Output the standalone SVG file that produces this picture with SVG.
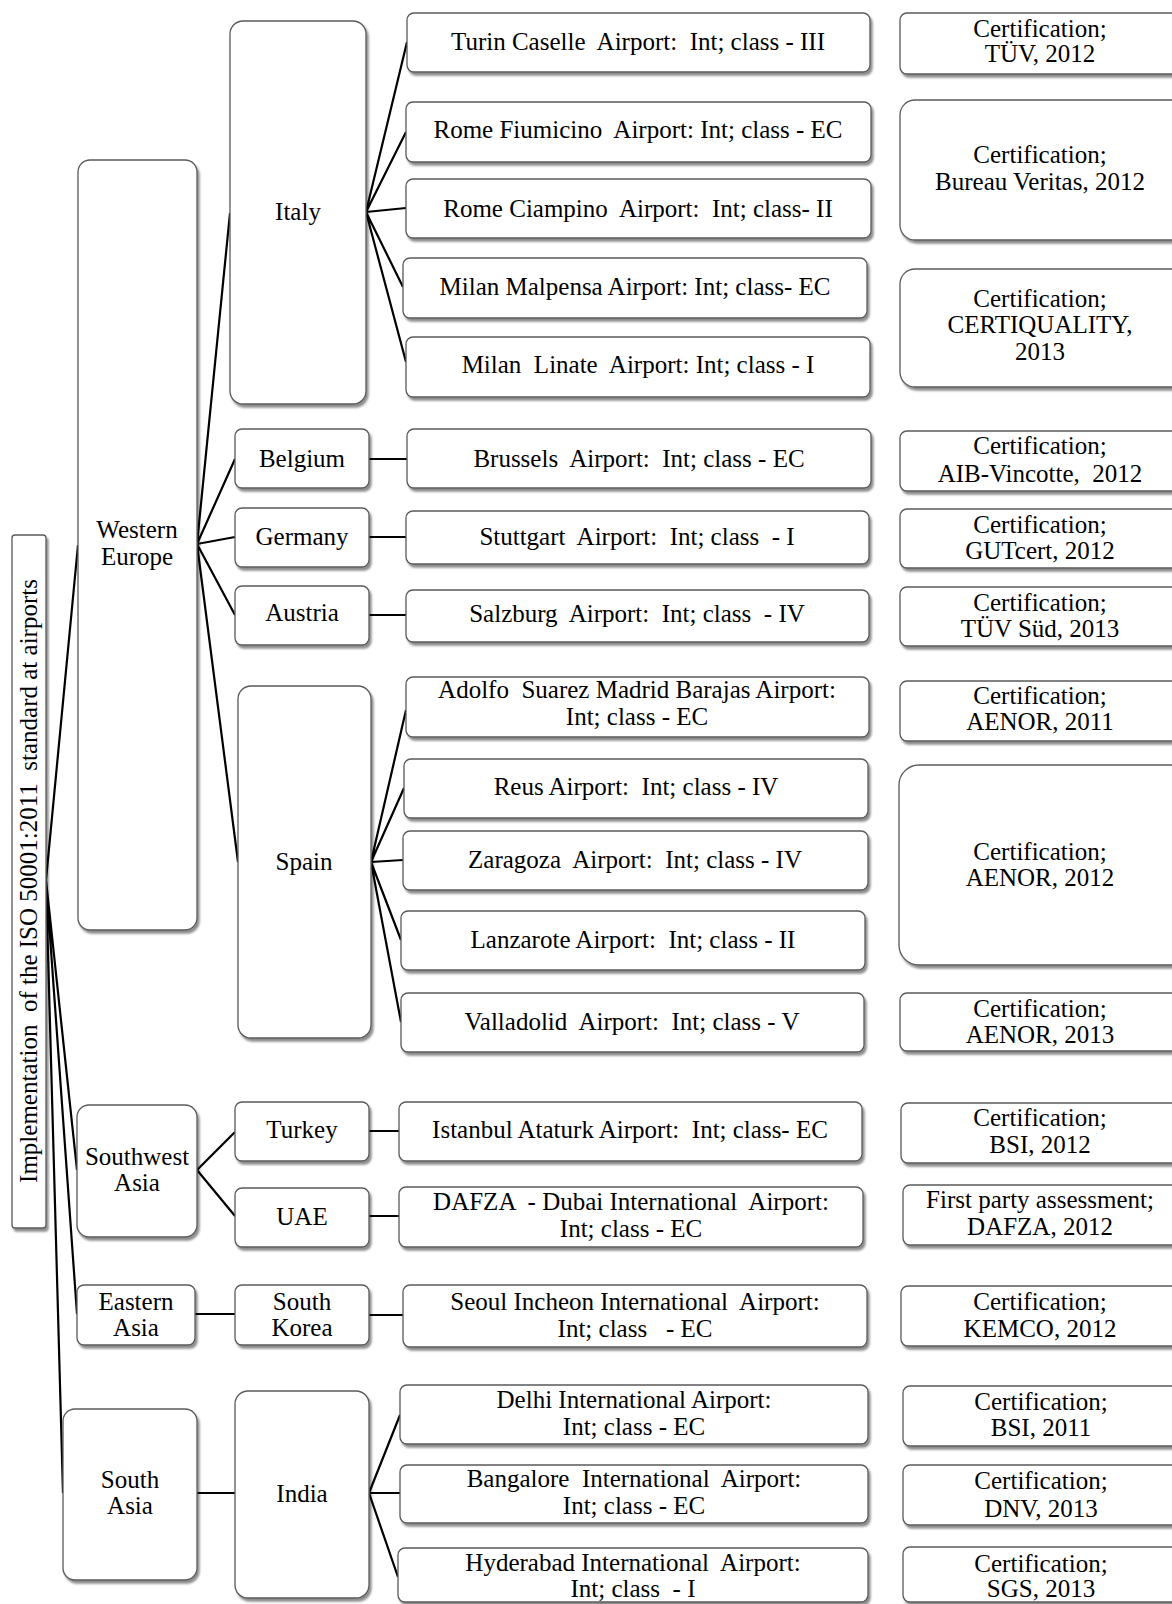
<svg xmlns="http://www.w3.org/2000/svg" width="1172" height="1604" viewBox="0 0 1172 1604" xml:space="preserve">
<defs>
<filter id="sh" x="-5%" y="-5%" width="115%" height="125%">
<feDropShadow dx="2" dy="3" stdDeviation="1.3" flood-color="#000" flood-opacity="0.45"/>
</filter>
<style>
.b{fill:#fff;stroke:#5a5a5a;stroke-width:1.3;filter:url(#sh)}
.t{font-family:"Liberation Serif","Times New Roman",serif;font-size:25px;fill:#000;text-anchor:middle;white-space:pre}
.c{stroke:#000;stroke-width:2.2;fill:none}
</style>
</defs>
<rect width="1172" height="1604" fill="#fff"/>
<g id="connectors">
<path class="c" d="M46,880L78,545M46,880L77,1170M46,880L77,1314M46,880L63,1493"/>
<path class="c" d="M197,544L230,213M197,544L235,459M197,544L235,537M197,544L235,615M197,544L238,862"/>
<path class="c" d="M366,212L407,42M366,212L406,132M366,212L406,208M366,212L403,287M366,212L406,362"/>
<path class="c" d="M369,459L407,459M369,537L406,537M369,615L406,615"/>
<path class="c" d="M371,862L406,710M371,862L404,788M371,862L403,860M371,862L401,940M371,862L401,1022"/>
<path class="c" d="M197,1170L235,1132M197,1170L235,1216M369,1131L399,1131M369,1216L399,1216"/>
<path class="c" d="M195,1314L235,1314M369,1315L403,1315"/>
<path class="c" d="M197,1493L235,1493M369,1493L400,1415M369,1493L400,1493M369,1493L398,1577"/>
</g>
<g id="root"><rect class="b" x="12" y="535" width="34" height="693" rx="3"/><text class="t" transform="translate(37,881) rotate(-90)">Implementation  of the ISO 50001:2011  standard at airports</text></g>
<g id="western-europe"><rect class="b" x="78" y="160" width="119" height="770" rx="12"/><text class="t" x="137" y="538">Western</text><text class="t" x="137" y="565">Europe</text></g>
<g id="southwest-asia"><rect class="b" x="77" y="1105" width="120" height="132" rx="12"/><text class="t" x="137" y="1165">Southwest</text><text class="t" x="137" y="1191">Asia</text></g>
<g id="eastern-asia"><rect class="b" x="77" y="1285" width="118" height="60" rx="7"/><text class="t" x="136" y="1310">Eastern</text><text class="t" x="136" y="1336">Asia</text></g>
<g id="south-asia"><rect class="b" x="63" y="1409" width="134" height="171" rx="12"/><text class="t" x="130" y="1488">South</text><text class="t" x="130" y="1514">Asia</text></g>
<g id="italy"><rect class="b" x="230" y="21" width="136" height="383" rx="13"/><text class="t" x="298" y="220">Italy</text></g>
<g id="belgium"><rect class="b" x="235" y="429" width="134" height="59" rx="7"/><text class="t" x="302" y="467">Belgium</text></g>
<g id="germany"><rect class="b" x="235" y="508" width="134" height="59" rx="7"/><text class="t" x="302" y="545">Germany</text></g>
<g id="austria"><rect class="b" x="235" y="586" width="134" height="59" rx="7"/><text class="t" x="302" y="621">Austria</text></g>
<g id="spain"><rect class="b" x="238" y="686" width="133" height="352" rx="13"/><text class="t" x="304" y="870">Spain</text></g>
<g id="turkey"><rect class="b" x="235" y="1102" width="134" height="59" rx="7"/><text class="t" x="302" y="1138">Turkey</text></g>
<g id="uae"><rect class="b" x="235" y="1188" width="134" height="59" rx="7"/><text class="t" x="302" y="1225">UAE</text></g>
<g id="south-korea"><rect class="b" x="235" y="1285" width="134" height="60" rx="7"/><text class="t" x="302" y="1310">South</text><text class="t" x="302" y="1336">Korea</text></g>
<g id="india"><rect class="b" x="235" y="1391" width="134" height="207" rx="13"/><text class="t" x="302" y="1502">India</text></g>
<g id="turin"><rect class="b" x="407" y="13" width="463" height="59" rx="7"/><text class="t" x="638" y="50">Turin Caselle  Airport:  Int; class - III</text></g>
<g id="fiumicino"><rect class="b" x="406" y="102" width="465" height="60" rx="7"/><text class="t" x="638" y="138">Rome Fiumicino  Airport: Int; class - EC</text></g>
<g id="ciampino"><rect class="b" x="406" y="179" width="465" height="59" rx="7"/><text class="t" x="638" y="217">Rome Ciampino  Airport:  Int; class- II</text></g>
<g id="malpensa"><rect class="b" x="403" y="258" width="464" height="60" rx="7"/><text class="t" x="635" y="295">Milan Malpensa Airport: Int; class- EC</text></g>
<g id="linate"><rect class="b" x="406" y="337" width="464" height="60" rx="7"/><text class="t" x="638" y="373">Milan  Linate  Airport: Int; class - I</text></g>
<g id="brussels"><rect class="b" x="407" y="429" width="464" height="59" rx="7"/><text class="t" x="639" y="467">Brussels  Airport:  Int; class - EC</text></g>
<g id="stuttgart"><rect class="b" x="406" y="511" width="463" height="53" rx="7"/><text class="t" x="637" y="545">Stuttgart  Airport:  Int; class  - I</text></g>
<g id="salzburg"><rect class="b" x="406" y="590" width="463" height="52" rx="7"/><text class="t" x="637" y="622">Salzburg  Airport:  Int; class  - IV</text></g>
<g id="adolfo"><rect class="b" x="406" y="677" width="463" height="60" rx="7"/><text class="t" x="637" y="698">Adolfo  Suarez Madrid Barajas Airport:</text><text class="t" x="637" y="725">Int; class - EC</text></g>
<g id="reus"><rect class="b" x="404" y="759" width="464" height="59" rx="7"/><text class="t" x="636" y="795">Reus Airport:  Int; class - IV</text></g>
<g id="zaragoza"><rect class="b" x="403" y="831" width="465" height="59" rx="7"/><text class="t" x="635" y="868">Zaragoza  Airport:  Int; class - IV</text></g>
<g id="lanzarote"><rect class="b" x="401" y="911" width="464" height="59" rx="7"/><text class="t" x="633" y="948">Lanzarote Airport:  Int; class - II</text></g>
<g id="valladolid"><rect class="b" x="401" y="993" width="463" height="59" rx="7"/><text class="t" x="632" y="1030">Valladolid  Airport:  Int; class - V</text></g>
<g id="istanbul"><rect class="b" x="399" y="1102" width="463" height="59" rx="7"/><text class="t" x="630" y="1138">Istanbul Ataturk Airport:  Int; class- EC</text></g>
<g id="dafza"><rect class="b" x="399" y="1187" width="464" height="60" rx="7"/><text class="t" x="631" y="1210">DAFZA  - Dubai International  Airport:</text><text class="t" x="631" y="1237">Int; class - EC</text></g>
<g id="seoul"><rect class="b" x="403" y="1285" width="464" height="62" rx="7"/><text class="t" x="635" y="1310">Seoul Incheon International  Airport:</text><text class="t" x="635" y="1337">Int; class   - EC</text></g>
<g id="delhi"><rect class="b" x="400" y="1385" width="468" height="59" rx="7"/><text class="t" x="634" y="1408">Delhi International Airport:</text><text class="t" x="634" y="1435">Int; class - EC</text></g>
<g id="bangalore"><rect class="b" x="400" y="1465" width="468" height="58" rx="7"/><text class="t" x="634" y="1487">Bangalore  International  Airport:</text><text class="t" x="634" y="1514">Int; class - EC</text></g>
<g id="hyderabad"><rect class="b" x="398" y="1548" width="470" height="54" rx="7"/><text class="t" x="633" y="1571">Hyderabad International  Airport:</text><text class="t" x="633" y="1597">Int; class  - I</text></g>
<g id="cert-tuv"><rect class="b" x="900" y="13" width="290" height="61" rx="7"/><text class="t" x="1040" y="37">Certification;</text><text class="t" x="1040" y="62">TÜV, 2012</text></g>
<g id="cert-bv"><rect class="b" x="900" y="100" width="290" height="140" rx="15"/><text class="t" x="1040" y="163">Certification;</text><text class="t" x="1040" y="190">Bureau Veritas, 2012</text></g>
<g id="cert-cq"><rect class="b" x="900" y="269" width="290" height="118" rx="15"/><text class="t" x="1040" y="307">Certification;</text><text class="t" x="1040" y="333">CERTIQUALITY,</text><text class="t" x="1040" y="360">2013</text></g>
<g id="cert-aib"><rect class="b" x="900" y="431" width="290" height="60" rx="7"/><text class="t" x="1040" y="454">Certification;</text><text class="t" x="1040" y="482">AIB-Vincotte,  2012</text></g>
<g id="cert-gut"><rect class="b" x="900" y="509" width="290" height="59" rx="7"/><text class="t" x="1040" y="533">Certification;</text><text class="t" x="1040" y="559">GUTcert, 2012</text></g>
<g id="cert-tuvsud"><rect class="b" x="900" y="587" width="290" height="59" rx="7"/><text class="t" x="1040" y="611">Certification;</text><text class="t" x="1040" y="637">TÜV Süd, 2013</text></g>
<g id="cert-aenor2011"><rect class="b" x="900" y="681" width="290" height="60" rx="7"/><text class="t" x="1040" y="704">Certification;</text><text class="t" x="1040" y="730">AENOR, 2011</text></g>
<g id="cert-aenor2012"><rect class="b" x="899" y="765" width="291" height="200" rx="20"/><text class="t" x="1040" y="860">Certification;</text><text class="t" x="1040" y="886">AENOR, 2012</text></g>
<g id="cert-aenor2013"><rect class="b" x="900" y="993" width="290" height="58" rx="7"/><text class="t" x="1040" y="1017">Certification;</text><text class="t" x="1040" y="1043">AENOR, 2013</text></g>
<g id="cert-bsi2012"><rect class="b" x="901" y="1103" width="290" height="60" rx="7"/><text class="t" x="1040" y="1126">Certification;</text><text class="t" x="1040" y="1153">BSI, 2012</text></g>
<g id="cert-dafza"><rect class="b" x="903" y="1185" width="290" height="60" rx="7"/><text class="t" x="1040" y="1208">First party assessment;</text><text class="t" x="1040" y="1235">DAFZA, 2012</text></g>
<g id="cert-kemco"><rect class="b" x="901" y="1286" width="290" height="60" rx="7"/><text class="t" x="1040" y="1310">Certification;</text><text class="t" x="1040" y="1337">KEMCO, 2012</text></g>
<g id="cert-bsi2011"><rect class="b" x="903" y="1386" width="290" height="60" rx="7"/><text class="t" x="1041" y="1410">Certification;</text><text class="t" x="1041" y="1436">BSI, 2011</text></g>
<g id="cert-dnv"><rect class="b" x="903" y="1465" width="290" height="60" rx="7"/><text class="t" x="1041" y="1489">Certification;</text><text class="t" x="1041" y="1517">DNV, 2013</text></g>
<g id="cert-sgs"><rect class="b" x="903" y="1547" width="290" height="55" rx="7"/><text class="t" x="1041" y="1572">Certification;</text><text class="t" x="1041" y="1597">SGS, 2013</text></g>
</svg>
